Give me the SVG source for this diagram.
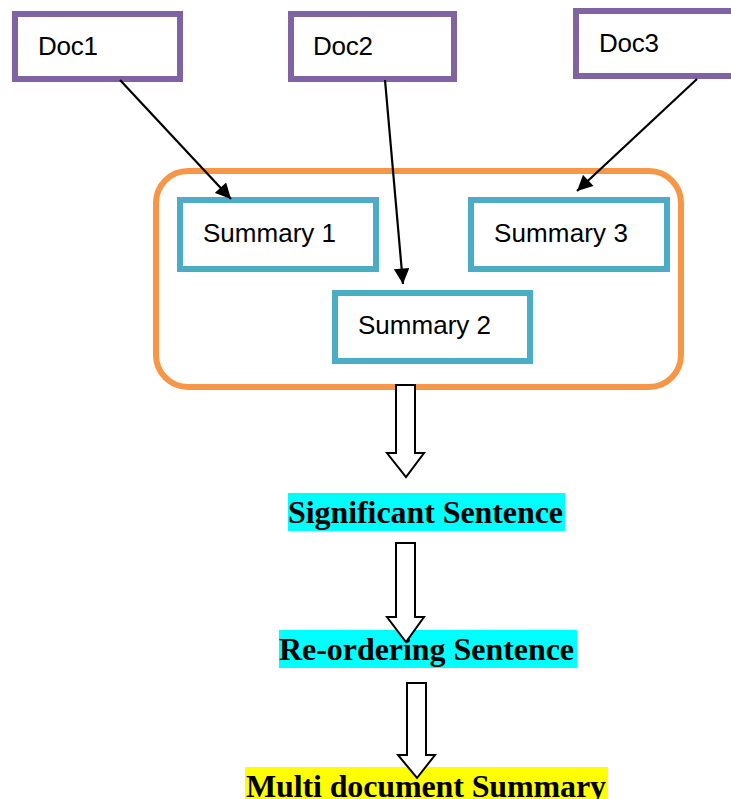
<svg xmlns="http://www.w3.org/2000/svg" width="731" height="799" viewBox="0 0 731 799">
  <style>
    .doc { fill: #ffffff; stroke: #8064A2; stroke-width: 6; }
    .sum { fill: #ffffff; stroke: #4BACC6; stroke-width: 6; }
    .group { fill: none; stroke: #F79646; stroke-width: 6; }
    .label { font-family: "Liberation Sans", Arial, sans-serif; font-size: 26px; fill: #000000; }
    .step { font-family: "Liberation Serif", "Times New Roman", serif; font-size: 32px; font-weight: bold; fill: #000000; }
    .link { stroke: #000000; stroke-width: 2.2; fill: none; }
    .flow { fill: #ffffff; stroke: #000000; stroke-width: 2; stroke-linejoin: miter; }
  </style>
  <defs>
    <marker id="head" viewBox="0 0 10 10" refX="10" refY="5" markerWidth="7.5" markerHeight="7" markerUnits="strokeWidth" orient="auto">
      <path d="M0,0 L10,5 L0,10 z" fill="#000000"/>
    </marker>
  </defs>
  <rect width="731" height="799" fill="#ffffff"/>

  <!-- source documents -->
  <g id="doc1">
    <rect class="doc" x="15" y="14" width="165" height="65"/>
    <text class="label" x="38" y="55" textLength="60">Doc1</text>
  </g>
  <g id="doc2">
    <rect class="doc" x="291" y="14" width="163" height="65"/>
    <text class="label" x="313" y="55" textLength="60">Doc2</text>
  </g>
  <g id="doc3">
    <rect class="doc" x="576" y="11" width="170" height="65"/>
    <text class="label" x="599" y="52" textLength="60">Doc3</text>
  </g>

  <!-- per-document summaries -->
  <g id="summaries">
    <rect class="group" x="156" y="171" width="525" height="216" rx="32" ry="32"/>
  </g>
  <g id="summary1">
    <rect class="sum" x="180" y="200" width="196" height="69"/>
    <text class="label" x="203" y="242" textLength="133">Summary 1</text>
  </g>
  <g id="summary3">
    <rect class="sum" x="471" y="200" width="196" height="69"/>
    <text class="label" x="494" y="242" textLength="134">Summary 3</text>
  </g>
  <g id="summary2">
    <rect class="sum" x="335" y="293" width="195" height="68"/>
    <text class="label" x="358" y="334" textLength="133">Summary 2</text>
  </g>

  <!-- processing steps -->
  <g id="significant">
    <rect x="288" y="493" width="277" height="38" fill="#00FFFF"/>
    <text class="step" x="288" y="523" textLength="275">Significant Sentence</text>
  </g>
  <g id="reordering">
    <rect x="279" y="630" width="298" height="38" fill="#00FFFF"/>
    <text class="step" x="279" y="660" textLength="295">Re-ordering Sentence</text>
  </g>
  <g id="multi">
    <rect x="245" y="767" width="363" height="40" fill="#FFFF00"/>
    <text class="step" x="246" y="797" textLength="360">Multi document Summary</text>
  </g>

  <!-- connectors -->
  <g id="connectors">
    <line class="link" x1="120" y1="80" x2="231" y2="199" marker-end="url(#head)"/>
    <line class="link" x1="385" y1="80" x2="403" y2="284" marker-end="url(#head)"/>
    <line class="link" x1="697" y1="79" x2="577" y2="191" marker-end="url(#head)"/>
    <path class="flow" d="M396,385 L415,385 L415,453 L424,453 L406,477 L387,453 L396,453 Z"/>
    <path class="flow" d="M396,543 L415,543 L415,617 L424,617 L406,642 L387,617 L396,617 Z"/>
    <path class="flow" d="M407,683 L426,683 L426,755 L435,755 L417,778 L398,755 L407,755 Z"/>
  </g>
</svg>
